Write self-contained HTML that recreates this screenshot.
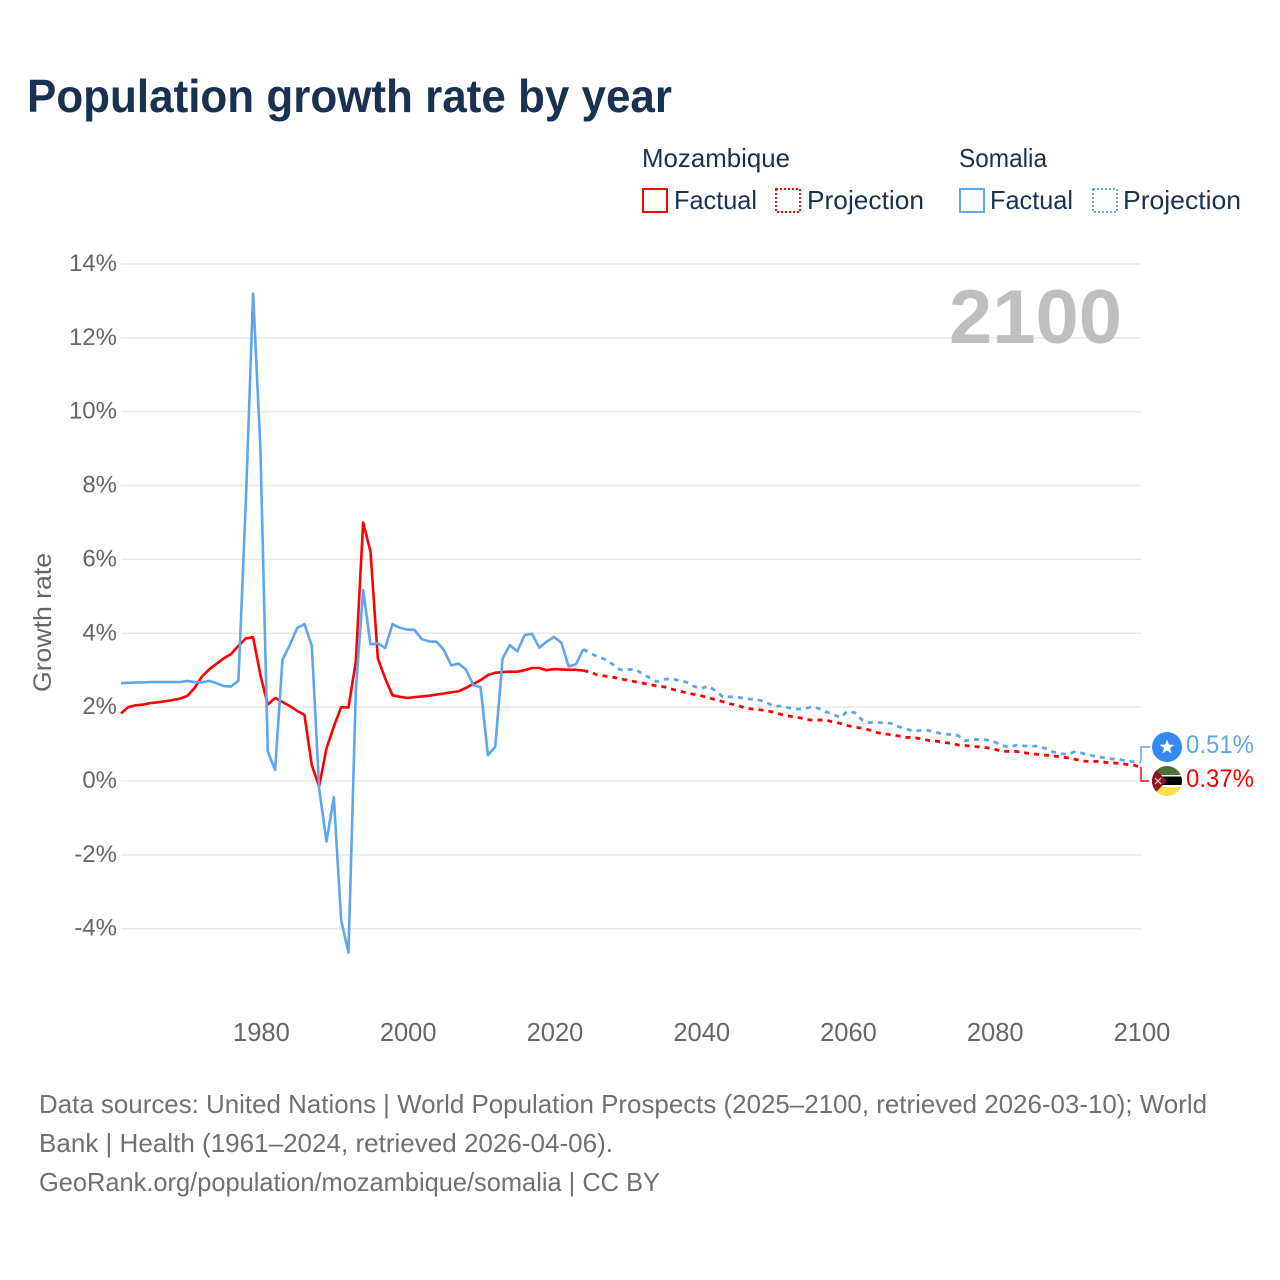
<!DOCTYPE html>
<html lang="en">
<head>
<meta charset="utf-8">
<title>Population growth rate by year</title>
<style>
html,body{margin:0;padding:0;background:#fff;}
svg{display:block;font-family:"Liberation Sans",sans-serif;}
</style>
</head>
<body>
<svg id="chart" xmlns="http://www.w3.org/2000/svg" width="1280" height="1280" viewBox="0 0 1280 1280">
  <defs>
    <clipPath id="somalia-clip"><circle cx="1167" cy="747" r="15"/></clipPath>
    <clipPath id="moz-clip"><circle cx="1167" cy="781" r="15"/></clipPath>
  </defs>
  <rect width="1280" height="1280" fill="#ffffff"/>

  <text x="27" y="112" font-size="46" font-weight="700" fill="#18324f" textLength="645" lengthAdjust="spacingAndGlyphs">Population growth rate by year</text>

  <g font-size="26" fill="#18324f">
    <text x="642" y="167" textLength="148" lengthAdjust="spacingAndGlyphs">Mozambique</text>
    <rect x="643" y="189" width="24" height="23" fill="none" stroke="#ff0000" stroke-width="2"/>
    <text x="674" y="209" textLength="83" lengthAdjust="spacingAndGlyphs">Factual</text>
    <rect x="776" y="189" width="24" height="23" fill="none" stroke="#ff0000" stroke-width="2" stroke-dasharray="2 2"/>
    <text x="807" y="209" textLength="117" lengthAdjust="spacingAndGlyphs">Projection</text>
    <text x="959" y="167" textLength="88" lengthAdjust="spacingAndGlyphs">Somalia</text>
    <rect x="960" y="189" width="24" height="23" fill="none" stroke="#5ea6ee" stroke-width="2"/>
    <text x="990" y="209" textLength="83" lengthAdjust="spacingAndGlyphs">Factual</text>
    <rect x="1093" y="189" width="24" height="23" fill="none" stroke="#5ea6ee" stroke-width="2" stroke-dasharray="2 2"/>
    <text x="1123" y="209" textLength="118" lengthAdjust="spacingAndGlyphs">Projection</text>
  </g>

  <g id="grid"></g>
  <g id="y-ticks"></g>
  <g id="x-ticks"></g>

  <text transform="translate(51,622.5) rotate(-90)" text-anchor="middle" font-size="25" fill="#666666" textLength="139" lengthAdjust="spacingAndGlyphs">Growth rate</text>

  <text x="949" y="343" font-size="76" font-weight="700" fill="#bfbfbf" textLength="173" lengthAdjust="spacingAndGlyphs">2100</text>

  <g id="series"></g>

  <polyline points="1141,761 1141,747 1150,747" fill="none" stroke="#5ea6ee" stroke-width="1.5"/>
  <polyline points="1141,767 1141,781 1149,781" fill="none" stroke="#ff0000" stroke-width="1.5"/>

  <g>
    <circle cx="1167" cy="747" r="15" fill="#338af3"/>
    <polygon points="1167,739.5 1168.9,744.6 1174.3,744.8 1170,748.2 1171.5,753.4 1167,750.4 1162.5,753.4 1164,748.2 1159.7,744.8 1165.1,744.6" fill="#ffffff"/>
  </g>
  <g clip-path="url(#moz-clip)">
    <rect x="1152" y="766" width="30" height="10" fill="#4b7035"/>
    <rect x="1152" y="775" width="30" height="2" fill="#ffffff"/>
    <rect x="1152" y="776.5" width="30" height="9" fill="#000000"/>
    <rect x="1152" y="785" width="30" height="2" fill="#ffffff"/>
    <rect x="1152" y="787" width="30" height="9" fill="#fcdd4a"/>
    <polygon points="1152,766 1167,781 1152,796" fill="#8f1030"/>
    <path d="M1155,778 L1161,784 M1161,778 L1155,784" stroke="#e8dcb0" stroke-width="1.2"/>
  </g>

  <text x="1186" y="753" font-size="25" fill="#5ea6ee" textLength="68" lengthAdjust="spacingAndGlyphs">0.51%</text>
  <text x="1186" y="787" font-size="25" fill="#ff0000" textLength="68" lengthAdjust="spacingAndGlyphs">0.37%</text>

  <g font-size="26" fill="#707070">
    <text x="39" y="1113" textLength="1168" lengthAdjust="spacingAndGlyphs">Data sources: United Nations | World Population Prospects (2025–2100, retrieved 2026-03-10); World</text>
    <text x="39" y="1152" textLength="574" lengthAdjust="spacingAndGlyphs">Bank | Health (1961–2024, retrieved 2026-04-06).</text>
    <text x="39" y="1191" textLength="621" lengthAdjust="spacingAndGlyphs">GeoRank.org/population/mozambique/somalia | CC BY</text>
  </g>
</svg>

<script>
const yTickValues = [14, 12, 10, 8, 6, 4, 2, 0, -2, -4];
const yTickLabels = ["14%", "12%", "10%", "8%", "6%", "4%", "2%", "0%", "-2%", "-4%"];
const xTickYears = [1980, 2000, 2020, 2040, 2060, 2080, 2100];
const xTickLabels = ["1980", "2000", "2020", "2040", "2060", "2080", "2100"];
const factualStartYear = 1961;
const projectionStartYear = 2024;

const mozambiqueFactual = [
  1.83,2.00,2.05,2.07,2.11,2.13,2.16,2.19,2.23,2.30,
  2.51,2.82,3.02,3.17,3.32,3.44,3.66,3.86,3.89,2.87,
  2.07,2.25,2.14,2.03,1.90,1.79,0.43,-0.15,0.88,1.47,
  2.00,1.99,3.23,7.00,6.21,3.32,2.78,2.32,2.28,2.25,
  2.27,2.29,2.31,2.34,2.37,2.40,2.43,2.52,2.63,2.73,
  2.87,2.93,2.95,2.96,2.96,3.00,3.06,3.06,3.00,3.03,
  3.02,3.01,3.01,2.99
];
const somaliaFactual = [
  2.65,2.66,2.67,2.67,2.68,2.68,2.68,2.68,2.68,2.71,
  2.68,2.67,2.71,2.65,2.57,2.56,2.72,7.50,13.20,9.00,
  0.80,0.30,3.28,3.68,4.14,4.25,3.66,-0.20,-1.64,-0.44,
  -3.77,-4.65,2.45,5.17,3.70,3.73,3.60,4.25,4.15,4.10,
  4.09,3.84,3.78,3.77,3.55,3.13,3.18,3.02,2.60,2.54,
  0.70,0.93,3.32,3.68,3.51,3.95,3.99,3.61,3.77,3.90,
  3.75,3.10,3.16,3.57
];
const mozambiqueProjection = [
  2.99,2.95,2.86,2.84,2.81,2.77,2.73,2.69,2.65,2.62,2.57,
  2.55,2.49,2.44,2.39,2.35,2.31,2.26,2.20,2.15,2.09,
  2.05,1.98,1.95,1.93,1.90,1.86,1.80,1.76,1.73,1.69,
  1.65,1.65,1.65,1.60,1.56,1.50,1.46,1.43,1.38,1.31,
  1.28,1.25,1.22,1.18,1.18,1.14,1.10,1.08,1.05,1.02,
  0.98,0.96,0.94,0.92,0.90,0.86,0.81,0.80,0.80,0.77,
  0.74,0.72,0.70,0.68,0.65,0.63,0.59,0.54,0.53,0.53,
  0.51,0.49,0.48,0.45,0.43,0.37
];
const somaliaProjection = [
  3.57,3.45,3.37,3.29,3.16,3.01,3.01,3.03,2.91,2.80,2.69,
  2.75,2.78,2.72,2.68,2.57,2.50,2.57,2.45,2.28,2.28,
  2.27,2.24,2.21,2.19,2.12,2.02,2.03,1.98,1.95,1.95,
  2.00,1.97,1.88,1.81,1.72,1.89,1.85,1.65,1.58,1.58,
  1.58,1.56,1.47,1.41,1.35,1.37,1.37,1.32,1.27,1.26,
  1.24,1.09,1.12,1.13,1.11,1.06,0.97,0.91,0.97,0.95,
  0.94,0.95,0.88,0.79,0.74,0.72,0.79,0.75,0.70,0.66,
  0.63,0.60,0.59,0.54,0.52,0.51
];

const SVG_NS = "http://www.w3.org/2000/svg";
const plotLeft = 121, plotRight = 1141;
const axisYearMin = 1961, axisYearMax = 2100;
const zeroPixel = 781, pixelsPerPercent = 36.93;

function xScale(year) {
  return plotLeft + (year - axisYearMin) * (plotRight - plotLeft) / (axisYearMax - axisYearMin);
}
function yScale(value) {
  return zeroPixel - value * pixelsPerPercent;
}
function linePath(startYear, values) {
  return values.map(function (v, i) {
    return (i ? "L" : "M") + xScale(startYear + i).toFixed(2) + " " + yScale(v).toFixed(2);
  }).join(" ");
}

const gridGroup = document.getElementById("grid");
const yTickGroup = document.getElementById("y-ticks");
yTickValues.forEach(function (v, i) {
  const line = document.createElementNS(SVG_NS, "line");
  
  
  line.setAttribute("x1", plotLeft);
  line.setAttribute("x2", plotRight);
  line.setAttribute("y1", yScale(v));
  line.setAttribute("y2", yScale(v));
  line.setAttribute("stroke", "#e8e8e8");
  line.setAttribute("stroke-width", "1.5");
  gridGroup.appendChild(line);

  const label = document.createElementNS(SVG_NS, "text");
  
  
  label.setAttribute("x", 117);
  label.setAttribute("y", yScale(v) + 7);
  label.setAttribute("text-anchor", "end");
  label.setAttribute("font-size", "24");
  label.setAttribute("fill", "#666666");
  label.textContent = yTickLabels[i];
  yTickGroup.appendChild(label);
});

const xTickGroup = document.getElementById("x-ticks");
xTickYears.forEach(function (year, i) {
  const label = document.createElementNS(SVG_NS, "text");
  
  
  label.setAttribute("x", xScale(year) + 1);
  label.setAttribute("y", 1041);
  label.setAttribute("text-anchor", "middle");
  label.setAttribute("font-size", "25.5");
  label.setAttribute("fill", "#666666");
  label.textContent = xTickLabels[i];
  xTickGroup.appendChild(label);
});

const seriesGroup = document.getElementById("series");

const mozambiqueFactualLine = document.createElementNS(SVG_NS, "path");


mozambiqueFactualLine.setAttribute("d", linePath(factualStartYear, mozambiqueFactual));
mozambiqueFactualLine.setAttribute("fill", "none");
mozambiqueFactualLine.setAttribute("stroke", "#ff0000");
mozambiqueFactualLine.setAttribute("stroke-width", "2.6");
mozambiqueFactualLine.setAttribute("stroke-linejoin", "round");
seriesGroup.appendChild(mozambiqueFactualLine);

const mozambiqueProjectionLine = document.createElementNS(SVG_NS, "path");


mozambiqueProjectionLine.setAttribute("d", linePath(projectionStartYear, mozambiqueProjection));
mozambiqueProjectionLine.setAttribute("fill", "none");
mozambiqueProjectionLine.setAttribute("stroke", "#ff0000");
mozambiqueProjectionLine.setAttribute("stroke-width", "2.8");
mozambiqueProjectionLine.setAttribute("stroke-dasharray", "5 5");
seriesGroup.appendChild(mozambiqueProjectionLine);

const somaliaFactualLine = document.createElementNS(SVG_NS, "path");


somaliaFactualLine.setAttribute("d", linePath(factualStartYear, somaliaFactual));
somaliaFactualLine.setAttribute("fill", "none");
somaliaFactualLine.setAttribute("stroke", "#5ea6ee");
somaliaFactualLine.setAttribute("stroke-width", "2.6");
somaliaFactualLine.setAttribute("stroke-linejoin", "round");
seriesGroup.appendChild(somaliaFactualLine);

const somaliaProjectionLine = document.createElementNS(SVG_NS, "path");


somaliaProjectionLine.setAttribute("d", linePath(projectionStartYear, somaliaProjection));
somaliaProjectionLine.setAttribute("fill", "none");
somaliaProjectionLine.setAttribute("stroke", "#5ea6ee");
somaliaProjectionLine.setAttribute("stroke-width", "2.8");
somaliaProjectionLine.setAttribute("stroke-dasharray", "5 5");
seriesGroup.appendChild(somaliaProjectionLine);
</script>
</body>
</html>
